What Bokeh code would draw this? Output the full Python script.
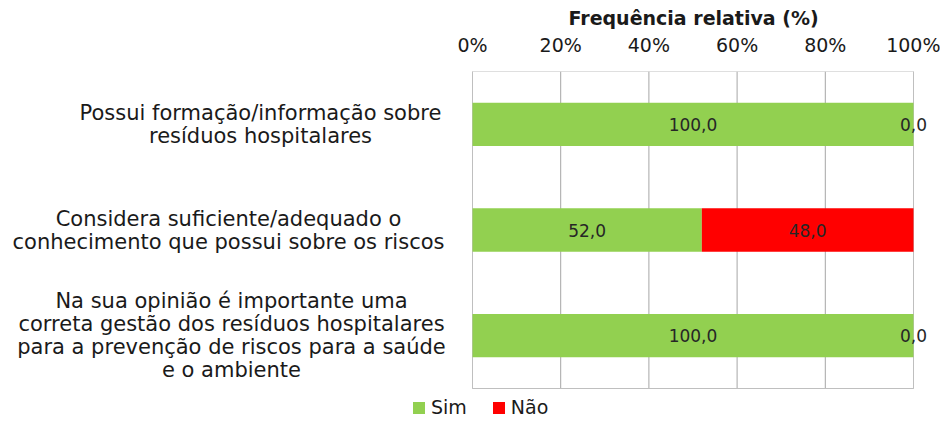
from bokeh.plotting import figure
from bokeh.models import (ColumnDataSource, Range1d, FixedTicker,
                          LabelSet, Legend, LegendItem)
from bokeh.core.properties import value
from bokeh.embed import file_html
from bokeh.resources import INLINE

categories = [
    "Possui formação/informação sobre\nresíduos hospitalares",
    "Considera suficiente/adequado o\nconhecimento que possui sobre os riscos",
    "Na sua opinião é importante uma\ncorreta gestão dos resíduos hospitalares\npara a prevenção de riscos para a saúde\ne o ambiente",
]
sim = [100.0, 52.0, 100.0]
nao = [0.0, 48.0, 0.0]
series_names = ["Sim", "Não"]
x_ticks = [0, 20, 40, 60, 80, 100]
x_tick_labels = ["0%", "20%", "40%", "60%", "80%", "100%"]
axis_title = "Frequência relativa (%)"

GREEN = "#92D050"
RED = "#FF0000"
FONT = "DejaVu Sans"
TXT = "#1a1a1a"

# ---- layout constants (pixels inside the figure canvas) ----
W, H = 940, 420
TOP = 71            # top of plot box
BOX_L, BOX_R = 472, 913
BOX_B = 388         # bottom of plot box
LINE_PX = 23        # line spacing of category texts
label_centers_px = [260, 228, 231]   # x-centre of each category text block

n = len(categories)
px_per_pct = (BOX_R - BOX_L) / 100.0
px_per_row = (BOX_B - TOP) / n
x_range = Range1d(-BOX_L / px_per_pct, (W - BOX_L) / px_per_pct)
y_range = Range1d(n + (H - BOX_B) / px_per_row, 0)   # first category on top


def fmt(v):
    return f"{v:.1f}".replace(".", ",")


ypos = [i + 0.5 for i in range(n)]
src = ColumnDataSource(dict(
    y=ypos,
    sim=sim,
    nao=nao,
    total=[s + q for s, q in zip(sim, nao)],
    sim_mid=[s / 2 for s in sim],
    nao_mid=[s + q / 2 for s, q in zip(sim, nao)],
    sim_lbl=[fmt(v) for v in sim],
    nao_lbl=[fmt(v) for v in nao],
))

# one entry per text line of the category labels (each line centred)
lx, ly, lt = [], [], []
for i, cat in enumerate(categories):
    lines = cat.split("\n")
    k = len(lines)
    for j, line in enumerate(lines):
        lx.append(label_centers_px[i])
        ly.append(ypos[i] + (j - (k - 1) / 2) * LINE_PX / px_per_row)
        lt.append(line)
cat_src = ColumnDataSource(dict(x=lx, y=ly, text=lt))

p = figure(width=W, height=H, output_backend="svg", toolbar_location=None,
           x_range=x_range, y_range=y_range, x_axis_location="above",
           min_border_left=0, min_border_right=0, min_border_top=TOP,
           min_border_bottom=0)
p.background_fill_color = "white"
p.border_fill_color = "white"
p.outline_line_color = None
p.xgrid.visible = False
p.ygrid.visible = False
p.yaxis.visible = False

# plot box and vertical gridlines
p.segment(x0=x_ticks, x1=x_ticks, y0=[0] * len(x_ticks), y1=[n] * len(x_ticks),
          line_color="#a6a6a6", line_width=1)
p.quad(left=[x_ticks[0]], right=[x_ticks[-1]], bottom=[n], top=[0],
       fill_color=None, line_color="#bfbfbf", line_width=1)

r_sim = p.hbar(y="y", left=0, right="sim", height=0.41, source=src,
               fill_color=GREEN, line_color=None)
r_nao = p.hbar(y="y", left="sim", right="total", height=0.41, source=src,
               fill_color=RED, line_color=None)

for col_x, col_t in (("sim_mid", "sim_lbl"), ("nao_mid", "nao_lbl")):
    p.add_layout(LabelSet(x=col_x, y="y", text=col_t, source=src,
                          text_align="center", text_baseline="middle",
                          text_font=value(FONT), text_font_size=value("17px"),
                          text_color="#262626"))

# category labels
p.add_layout(LabelSet(x="x", x_units="screen", y="y", text="text",
                      source=cat_src, text_align="center",
                      text_baseline="middle",
                      text_font=value(FONT), text_font_size=value("21px"),
                      text_color=TXT))

# top axis
xa = p.xaxis[0]
xa.ticker = FixedTicker(ticks=x_ticks)
xa.major_label_overrides = {t: l for t, l in zip(x_ticks, x_tick_labels)}
xa.major_label_text_font = FONT
xa.major_label_text_font_size = "19px"
xa.major_label_text_color = TXT
xa.major_label_standoff = 16
xa.major_tick_out = 0
xa.major_tick_in = 0
xa.minor_tick_out = 0
xa.minor_tick_in = 0
xa.axis_line_color = None

# axis title over the plot box
p.title.text = axis_title
p.title.align = "left"
p.title.offset = 568
p.title.text_font = FONT
p.title.text_font_style = "bold"
p.title.text_font_size = "19px"
p.title.text_color = TXT
p.title.standoff = 4

legend = Legend(items=[LegendItem(label=series_names[0], renderers=[r_sim]),
                       LegendItem(label=series_names[1], renderers=[r_nao])],
                orientation="horizontal", location=(411, 2),
                label_text_font=FONT, label_text_font_size="19px",
                label_text_color=TXT, label_height=18,
                glyph_width=15, glyph_height=15, label_standoff=5, spacing=24,
                padding=0, margin=0, border_line_color=None,
                background_fill_alpha=0)
p.add_layout(legend)

open("out.html", "w").write(file_html(p, INLINE))
